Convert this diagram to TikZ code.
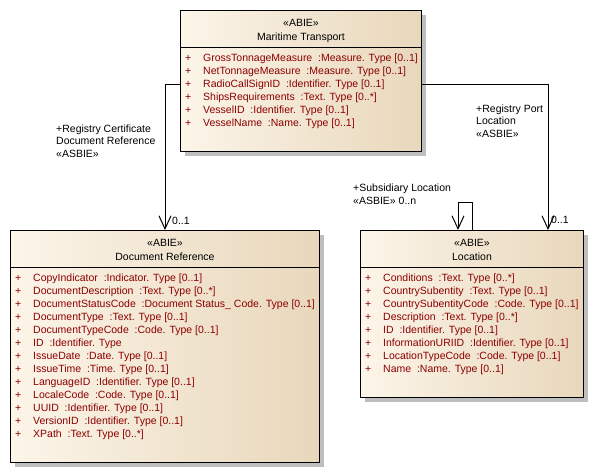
\documentclass[tikz,border=0pt]{standalone}
\usepackage{fontspec}
\setmainfont{Liberation Sans}
\usepackage{xcolor}
\usetikzlibrary{arrows.meta, shadows}

\definecolor{boxlight}{RGB}{252,245,233}
\definecolor{boxdark}{RGB}{232,215,187}
\definecolor{attrred}{RGB}{140,0,0}
\definecolor{shadowgray}{RGB}{190,190,190}

\begin{document}
\begin{tikzpicture}[
    x=1pt, y=-1pt,
    every node/.style={font=\fontsize{10.5}{12.5}\selectfont, inner sep=0pt},
    classbox/.style={rectangle, draw=black, line width=1pt, left color=boxlight, right color=boxdark, anchor=north west, drop shadow={shadow xshift=4pt, shadow yshift=-4pt, fill=shadowgray, opacity=1}},
    head/.style={anchor=base},
    attr/.style={anchor=base west, text=attrred},
    lbl/.style={anchor=base west, align=left},
    assoc/.style={line width=1pt, -{Straight Barb[length=13pt, width=12pt]}}
]
\useasboundingbox (0,0) rectangle (594,472);

% classes
\node[classbox, minimum width=241pt, minimum height=141pt] (mt) at (180,10) {};
\node[classbox, minimum width=309pt, minimum height=232pt] (dr) at (10,230) {};
\node[classbox, minimum width=223pt, minimum height=167pt] (loc) at (360,230) {};

\foreach \c in {mt, dr, loc} {
    \draw[line width=1pt] ([yshift=-37pt]\c.north west) -- ([yshift=-37pt]\c.north east);
}

\node[head] (mt-st) at ([yshift=-16pt]mt.north) {«ABIE»};
\node[head] (mt-nm) at ([yshift=-30pt]mt.north) {Maritime Transport};
\node[head] (dr-st) at ([yshift=-16pt]dr.north) {«ABIE»};
\node[head] (dr-nm) at ([yshift=-30pt]dr.north) {Document Reference};
\node[head] (loc-st) at ([yshift=-16pt]loc.north) {«ABIE»};
\node[head] (loc-nm) at ([yshift=-30pt]loc.north) {Location};

% attributes
\foreach \a [count=\i] in {{GrossTonnageMeasure~~:Measure. Type [0..1]},
    {NetTonnageMeasure~~:Measure. Type [0..1]},
    {RadioCallSignID~~:Identifier. Type [0..1]},
    {ShipsRequirements~~:Text. Type [0..*]},
    {VesselID~~:Identifier. Type [0..1]},
    {VesselName~~:Name. Type [0..1]}}
    \node[attr] (mt-a\i) at ([xshift=5pt, yshift={-(51.5+13*(\i-1))*1pt}]mt.north west) {\makebox[18pt][l]{+}\a};

\begin{scope}
\clip ([xshift=1pt]dr.north west) rectangle ([xshift=-1pt]dr.south east);
\foreach \a [count=\i] in {{CopyIndicator~~:Indicator. Type [0..1]},
    {DocumentDescription~~:Text. Type [0..*]},
    {DocumentStatusCode~~:Document Status\_ Code. Type [0..1]},
    {DocumentType~~:Text. Type [0..1]},
    {DocumentTypeCode~~:Code. Type [0..1]},
    {ID~~:Identifier. Type},
    {IssueDate~~:Date. Type [0..1]},
    {IssueTime~~:Time. Type [0..1]},
    {LanguageID~~:Identifier. Type [0..1]},
    {LocaleCode~~:Code. Type [0..1]},
    {UUID~~:Identifier. Type [0..1]},
    {VersionID~~:Identifier. Type [0..1]},
    {XPath~~:Text. Type [0..*]}}
    \node[attr] (dr-a\i) at ([xshift=5pt, yshift={-(51.5+13*(\i-1))*1pt}]dr.north west) {\makebox[18pt][l]{+}\a};
\end{scope}

\foreach \a [count=\i] in {{Conditions~~:Text. Type [0..*]},
    {CountrySubentity~~:Text. Type [0..1]},
    {CountrySubentityCode~~:Code. Type [0..1]},
    {Description~~:Text. Type [0..*]},
    {ID~~:Identifier. Type [0..1]},
    {InformationURIID~~:Identifier. Type [0..1]},
    {LocationTypeCode~~:Code. Type [0..1]},
    {Name~~:Name. Type [0..1]}}
    \node[attr] (loc-a\i) at ([xshift=5pt, yshift={-(51.5+13*(\i-1))*1pt}]loc.north west) {\makebox[18pt][l]{+}\a};

% associations
\coordinate (portend) at ([xshift=-36pt]loc.north east);
\coordinate (subend) at ([xshift=-14pt]loc.north);

\draw[assoc] (mt.west |- mt-a3) -| (dr.north);
\draw[assoc] (mt.east |- mt-a3) -| (portend);
\draw[assoc] (loc.north) -- ++(0,-28) -| (subend);

\node[lbl] (certlbl) at (56,157) {+Registry Certificate\\Document Reference\\«ASBIE»};
\node[lbl] (certmult) at (172,224) {0..1};
\node[lbl] (portlbl) at (476,137) {+Registry Port\\Location\\«ASBIE»};
\node[lbl] (portmult) at (551,223) {0..1};
\node[lbl] (sublbl) at (353,204) {+Subsidiary Location\\«ASBIE» 0..n};

\end{tikzpicture}
\end{document}
